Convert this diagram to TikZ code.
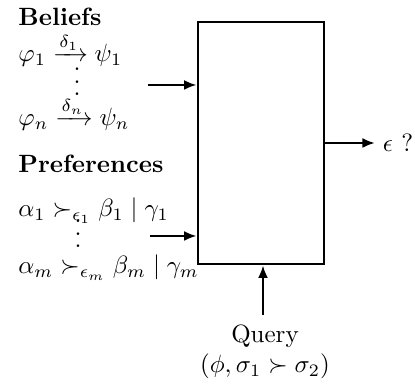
\documentclass[tikz,border=0pt]{standalone}
\usepackage{amsmath}
\usetikzlibrary{arrows.meta, positioning}
\newcommand{\dotcol}{\vbox{\baselineskip5pt\lineskiplimit0pt\hbox{.}\hbox{.}\hbox{.}}}

\begin{document}
\begin{tikzpicture}[x=0.4pt, y=-0.4pt,
  feed/.style={-{Latex[length=5pt, width=4pt]}, line width=1.1pt},
  txt/.style={anchor=base west, inner sep=0pt}]
  \useasboundingbox (0,0) rectangle (415,384);
  \node[draw, line width=1.1pt, minimum width=50.4pt, minimum height=96.8pt, inner sep=0pt] (kb) at (261,143) {};
  % beliefs
  \node[txt, font=\bfseries] (bel) at (18,26) {Beliefs};
  \node[txt] (b1) at (18,62) {$\varphi_1 \xrightarrow{\delta_1} \psi_1$};
  \node[txt] (bn) at (18,126) {$\varphi_n \xrightarrow{\delta_n} \psi_n$};
  \node[inner sep=0pt] (bdots) at (77,82) {\dotcol};
  % preferences
  \node[txt, font=\bfseries] (pref) at (18,173) {Preferences};
  \node[txt] (p1) at (18,217) {$\alpha_1 \succ_{\epsilon_1} \beta_1 \mid \gamma_1$};
  \node[txt] (pm) at (18,274) {$\alpha_m \succ_{\epsilon_m} \beta_m \mid \gamma_m$};
  \node[inner sep=0pt] (pdots) at (78,234) {\dotcol};
  % inputs
  \coordinate (bin) at (148,85);
  \coordinate (pin) at (150,236);
  \draw[feed] (bin) -- (bin -| kb.west);
  \draw[feed] (pin) -- (pin -| kb.west);
  % answer
  \coordinate (out) at (375,143);
  \draw[feed] (kb.east) -- (out);
  \node[right=3pt of out, inner sep=0pt] (ans) {$\epsilon$ ?};
  % query
  \node[anchor=base] (qry) at (265,343) {Query};
  \node[anchor=base] (qexp) at (265,373) {$(\phi, \sigma_1 \succ \sigma_2)$};
  \coordinate (qin) at (263,315);
  \draw[feed] (qin) -- (qin |- kb.south);
\end{tikzpicture}
\end{document}
